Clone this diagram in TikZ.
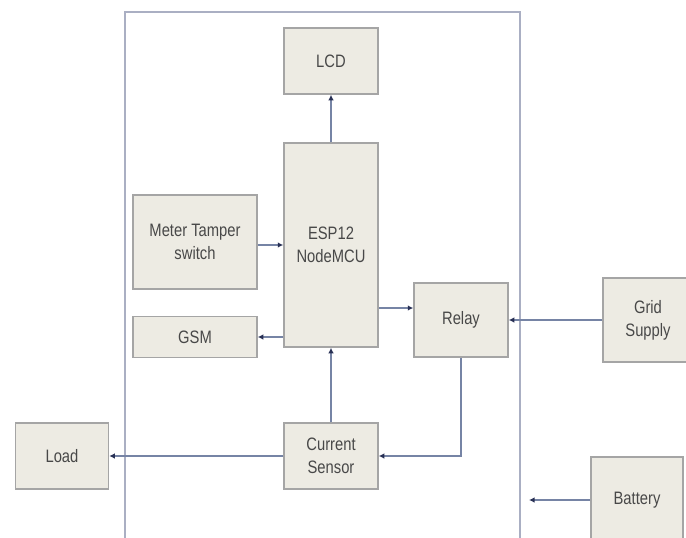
\documentclass[tikz,border=0pt]{standalone}
\usepackage{fontspec}
\setmainfont[FakeStretch=0.82]{Liberation Sans}
\usetikzlibrary{
  arrows.meta,
  positioning,
  calc
}
\definecolor{BoxBeige}{RGB}{237,235,227}
\definecolor{BoxEdge}{RGB}{165,165,165}
\definecolor{WireBlue}{RGB}{118,132,165}
\definecolor{TipNavy}{RGB}{40,48,85}
\definecolor{LabelGray}{RGB}{72,72,72}
\definecolor{FrameGray}{RGB}{170,175,195}
\tikzset{
  block/.style={draw=BoxEdge,fill=BoxBeige,line width=1.5pt,inner sep=0pt,align=center,text=LabelGray,font=\fontsize{18}{23}\selectfont},
  wire/.style={-{Latex[length=5.5pt,width=5.5pt,color=TipNavy]},line width=1.2pt,draw=WireBlue},
  meterframe/.style={line width=1.3pt,draw=FrameGray}
}
\begin{document}
\begin{tikzpicture}[x=1pt,y=-1pt]
\useasboundingbox (0,0) rectangle (686,538);
\draw[meterframe] (125,545) -- (125,12) -- (520,12) -- (520,545);

\node[block,minimum width=94pt,minimum height=66pt] (lcd) at (331,61) {LCD};
\node[block,minimum width=94pt,minimum height=204pt] (esp) at (331,245) {ESP12\\NodeMCU};
\node[block,minimum width=124pt,minimum height=94pt] (meter) at (195,242) {Meter Tamper\\switch};
\node[block,minimum width=124pt,minimum height=41pt] (gsm) at (195,337) {GSM};
\node[block,minimum width=94pt,minimum height=74pt] (relay) at (461,320) {Relay};
\node[block,minimum width=90pt,minimum height=84pt] (grid) at (648,320) {Grid\\Supply};
\node[block,minimum width=93pt,minimum height=66pt] (load) at (62,456) {Load};
\node[block,minimum width=94pt,minimum height=66pt] (current) at (331,456) {Current\\Sensor};
\node[block,minimum width=92pt,minimum height=86pt] (battery) at (637,500) {Battery};
\coordinate (batin) at (529,500);

\draw[wire] (esp.north) -- (lcd.south);
\draw[wire] ([yshift=-3pt]meter.east) -- ([yshift=-3pt]meter.east -| esp.west);
\draw[wire] (gsm.east -| esp.west) -- (gsm.east);
\draw[wire] ([yshift=12pt]relay.west -| esp.east) -- ([yshift=12pt]relay.west);
\draw[wire] (grid.west) -- (relay.east);
\draw[wire] (relay.south) |- (current.east);
\draw[wire] (current.north) -- (esp.south);
\draw[wire] (current.west) -- (load.east);
\draw[wire] (battery.west) -- (batin);
\end{tikzpicture}
\end{document}
